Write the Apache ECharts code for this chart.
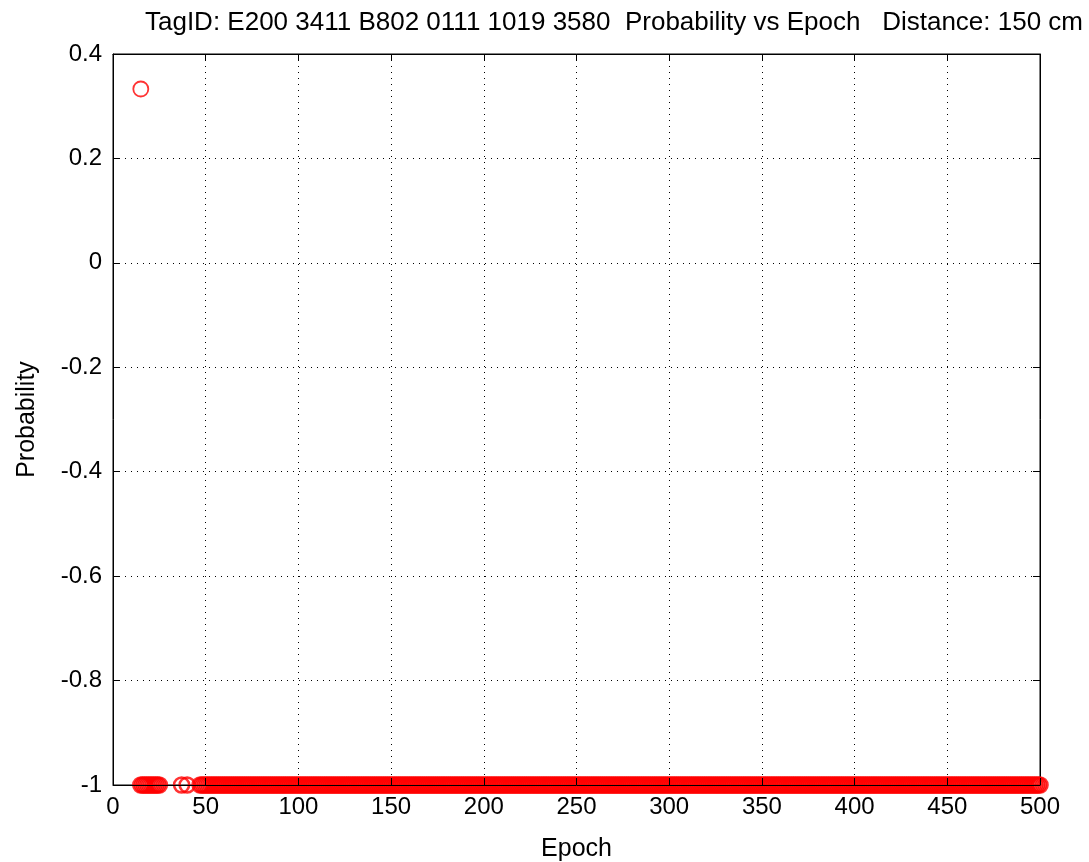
<!DOCTYPE html>
<html>
<head>
<meta charset="utf-8">
<script src="https://cdn.jsdelivr.net/npm/echarts@6/dist/echarts.min.js"></script>
<style>html,body{margin:0;padding:0;background:#fff;}#c{width:1089px;height:862px;}</style>
</head>
<body>
<div id="c"></div>
<script>
// Data
const titleText = 'TagID: E200 3411 B802 0111 1019 3580  Probability vs Epoch   Distance: 150 cm';
const xTicks = [0, 50, 100, 150, 200, 250, 300, 350, 400, 450, 500];
const yTicks = [-1, -0.8, -0.6, -0.4, -0.2, 0, 0.2, 0.4];
// single high point
const highEpochs = [15];
const highValues = [0.333];
// epochs at probability -1
const lowEpochs = [
  15,16,17,18,19,20,21,22,23,24,25,
  37,40,
  47,48,49,50,51,52,53,54,55,56,57,58,59,60,
  61,62,63,64,65,66,67,68,69,70,71,72,73,74,75,76,77,78,79,80,
  81,82,83,84,85,86,87,88,89,90,91,92,93,94,95,96,97,98,99,100,
  101,102,103,104,105,106,107,108,109,110,111,112,113,114,115,116,117,118,119,120,
  121,122,123,124,125,126,127,128,129,130,131,132,133,134,135,136,137,138,139,140,
  141,142,143,144,145,146,147,148,149,150,151,152,153,154,155,156,157,158,159,160,
  161,162,163,164,165,166,167,168,169,170,171,172,173,174,175,176,177,178,179,180,
  181,182,183,184,185,186,187,188,189,190,191,192,193,194,195,196,197,198,199,200,
  201,202,203,204,205,206,207,208,209,210,211,212,213,214,215,216,217,218,219,220,
  221,222,223,224,225,226,227,228,229,230,231,232,233,234,235,236,237,238,239,240,
  241,242,243,244,245,246,247,248,249,250,251,252,253,254,255,256,257,258,259,260,
  261,262,263,264,265,266,267,268,269,270,271,272,273,274,275,276,277,278,279,280,
  281,282,283,284,285,286,287,288,289,290,291,292,293,294,295,296,297,298,299,300,
  301,302,303,304,305,306,307,308,309,310,311,312,313,314,315,316,317,318,319,320,
  321,322,323,324,325,326,327,328,329,330,331,332,333,334,335,336,337,338,339,340,
  341,342,343,344,345,346,347,348,349,350,351,352,353,354,355,356,357,358,359,360,
  361,362,363,364,365,366,367,368,369,370,371,372,373,374,375,376,377,378,379,380,
  381,382,383,384,385,386,387,388,389,390,391,392,393,394,395,396,397,398,399,400,
  401,402,403,404,405,406,407,408,409,410,411,412,413,414,415,416,417,418,419,420,
  421,422,423,424,425,426,427,428,429,430,431,432,433,434,435,436,437,438,439,440,
  441,442,443,444,445,446,447,448,449,450,451,452,453,454,455,456,457,458,459,460,
  461,462,463,464,465,466,467,468,469,470,471,472,473,474,475,476,477,478,479,480,
  481,482,483,484,485,486,487,488,489,490,491,492,493,494,495,496,497,498,499,500
];
const lowValue = -1;

const highPoints = highEpochs.map((e, i) => [e, highValues[i]]);
const lowPoints = lowEpochs.map(e => [e, lowValue]);

const FONT = '"Liberation Sans", Arial, sans-serif';
const chart = echarts.init(document.getElementById('c'), null, {renderer: 'canvas'});
const fmtY = v => { const r = Math.round(v * 10) / 10; const t = yTicks.find(k => Math.abs(k - r) < 1e-9); return String(t !== undefined ? t : r); };
const fmtX = v => { const t = xTicks.find(k => k === Math.round(v)); return String(t !== undefined ? t : v); };

chart.setOption({
  backgroundColor: '#ffffff',
  animation: false,
  title: {
    text: titleText,
    left: 609, top: 5, textAlign: 'center',
    textStyle: {fontFamily: FONT, fontSize: 26, fontWeight: 'normal', color: '#000'}
  },
  grid: {left: 113, right: 49, top: 54, bottom: 77, outerBoundsMode: 'none', containLabel: false,
         show: true, borderColor: '#000', borderWidth: 1, backgroundColor: 'transparent', z: 0},
  xAxis: [
    {
      type: 'value', position: 'bottom', min: 0, max: 500, interval: 50, z: 5,
      name: 'Epoch', nameLocation: 'middle', nameGap: 52,
      nameTextStyle: {fontFamily: FONT, fontSize: 25, color: '#000'},
      axisLine: {show: true, onZero: false, lineStyle: {color: '#000', width: 1}},
      axisTick: {show: true, inside: true, length: 7, lineStyle: {color: '#000'}},
      axisLabel: {fontFamily: FONT, fontSize: 24, color: '#000', margin: 10, formatter: fmtX},
      splitLine: {show: false}
    },
    {
      type: 'value', position: 'top', min: 0, max: 500, interval: 50, z: 0,
      axisLine: {show: true, onZero: false, lineStyle: {color: '#000', width: 1}},
      axisTick: {show: true, inside: true, length: 7, lineStyle: {color: '#000'}},
      axisLabel: {show: false},
      splitLine: {show: true, lineStyle: {color: '#000', width: 1, type: [1, 5]}}
    }
  ],
  yAxis: [
    {
      type: 'value', position: 'left', min: -1, max: 0.4, interval: 0.2, z: 0,
      name: 'Probability', nameLocation: 'middle', nameGap: 73, nameRotate: 90,
      nameTextStyle: {fontFamily: FONT, fontSize: 25, color: '#000'},
      axisLine: {show: true, onZero: false, lineStyle: {color: '#000', width: 1}},
      axisTick: {show: true, inside: true, length: 7, lineStyle: {color: '#000'}},
      axisLabel: {fontFamily: FONT, fontSize: 24, color: '#000', margin: 11, formatter: fmtY},
      splitLine: {show: true, lineStyle: {color: '#000', width: 1, type: [1, 5]}}
    },
    {
      type: 'value', position: 'right', min: -1, max: 0.4, interval: 0.2, z: 0,
      axisLine: {show: true, onZero: false, lineStyle: {color: '#000', width: 1}},
      axisTick: {show: true, inside: true, length: 7, lineStyle: {color: '#000'}},
      axisLabel: {show: false},
      splitLine: {show: false}
    }
  ],
  series: [
    {
      type: 'scatter', xAxisIndex: 0, yAxisIndex: 0,
      data: highPoints, symbol: 'circle', symbolSize: 15,
      itemStyle: {color: 'rgba(0,0,0,0)', borderColor: '#ff0000', borderWidth: 1.8},
      z: 2, silent: true
    },
    {
      type: 'scatter', xAxisIndex: 0, yAxisIndex: 0,
      data: lowPoints, symbol: 'circle', symbolSize: 15,
      itemStyle: {color: 'rgba(0,0,0,0)', borderColor: '#ff0000', borderWidth: 2.6},
      z: 2, silent: true
    }
  ]
});
</script>
</body>
</html>
